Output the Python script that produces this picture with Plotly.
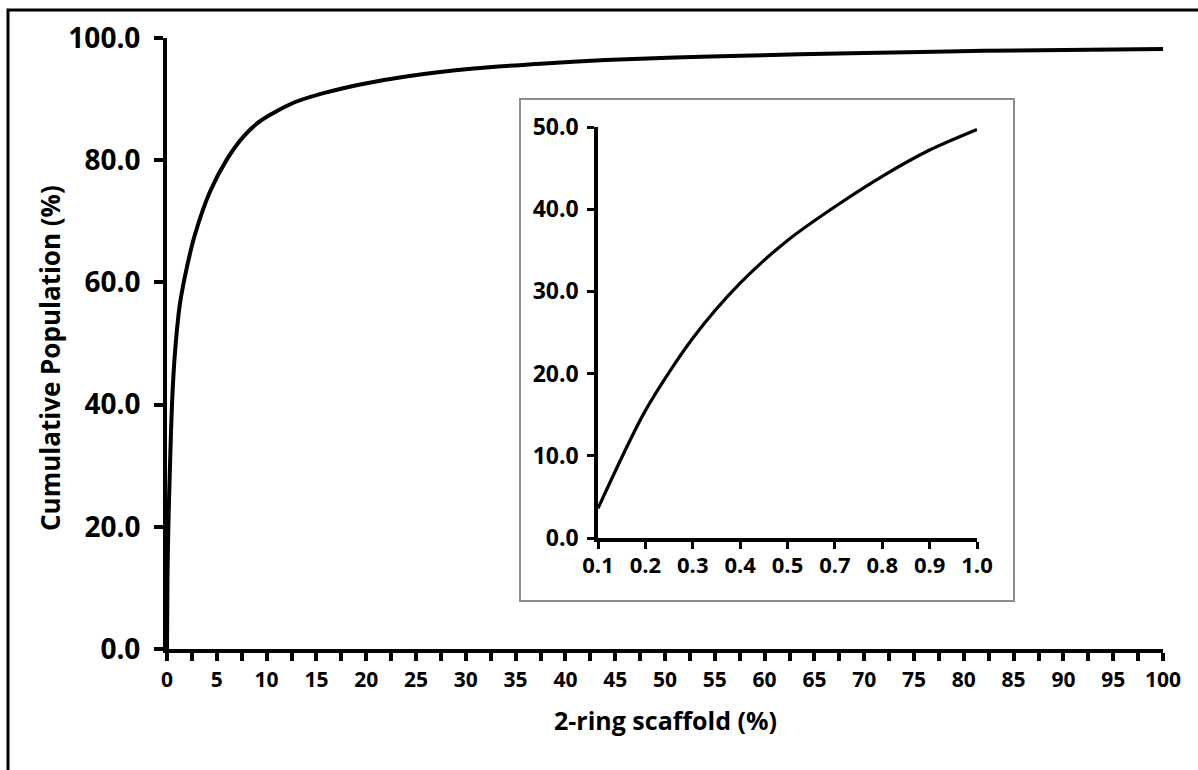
import plotly.graph_objects as go

# Main curve: 2-ring scaffold (%) vs cumulative population (%)
main_x = [0, 0.05, 0.15, 0.3, 0.5, 0.8, 1.3, 2.0, 2.8, 4.3, 6.0, 7.7,
          9.35, 12.7, 16.0, 19.4, 24.0, 30.8, 37.5, 44.0, 51.0, 57.6, 68.6, 82.0, 100.0]
main_y = [0, 12.0, 21.0, 30.0, 40.0, 48.5, 56.5, 62.5, 67.8, 74.8, 80.1, 83.9,
          86.4, 89.4, 91.1, 92.4, 93.7, 95.0, 95.8, 96.4, 96.8, 97.1, 97.5, 97.9, 98.2]

# Inset: first 1% of scaffolds (categorical axis, as in the original)
inset_cats = ["0.1", "0.2", "0.3", "0.4", "0.5", "0.7", "0.8", "0.9", "1.0"]
inset_y = [3.6, 15.5, 24.3, 31.0, 36.2, 40.3, 44.0, 47.2, 49.7]

main_xticks = list(range(0, 101, 5))
x_title = "2-ring scaffold (%)"
y_title = "Cumulative Population (%)"

W, H = 1198, 770
FONT = "Open Sans"

def px_x(p):
    return p / W

def px_y(p):
    return 1 - p / H

fig = go.Figure()
fig.add_trace(go.Scatter(x=main_x, y=main_y, mode="lines",
                         line=dict(color="black", width=4, shape="spline", smoothing=0.8),
                         xaxis="x", yaxis="y", showlegend=False, hoverinfo="skip"))
fig.add_trace(go.Scatter(x=inset_cats, y=inset_y, mode="lines",
                         line=dict(color="black", width=3.2, shape="spline", smoothing=0.8),
                         xaxis="x2", yaxis="y2", showlegend=False, hoverinfo="skip"))

axis_common = dict(showgrid=False, zeroline=False, showline=True, linecolor="black",
                   ticks="outside", tickcolor="black", automargin=False)

fig.update_layout(
    template="none",
    width=W, height=H,
    margin=dict(l=0, r=0, t=0, b=0, pad=0, autoexpand=False),
    paper_bgcolor="white", plot_bgcolor="rgba(0,0,0,0)",
    font=dict(family=FONT, color="black", weight="bold"),
    xaxis=dict(**axis_common, domain=[px_x(167), px_x(1163)], range=[0, 100],
               tickvals=main_xticks, ticktext=[str(v) for v in main_xticks],
               linewidth=4, tickwidth=3.5, ticklen=8, ticklabelstandoff=1,
               minor=dict(dtick=2.5, ticks="outside", ticklen=8, tickwidth=3.5, tickcolor="black",
                          showgrid=False),
               tickfont=dict(size=21, family=FONT, weight="bold"),
               anchor="y"),
    yaxis=dict(**axis_common, domain=[px_y(649), px_y(38)], range=[0, 100],
               dtick=20, tickformat=".1f", linewidth=4, tickwidth=3.5, ticklen=9,
               ticklabelstandoff=8,
               tickfont=dict(size=28, family=FONT, weight="bold"),
               anchor="x"),
    xaxis2=dict(**axis_common, domain=[px_x(598), px_x(977)], type="category",
                range=[0, len(inset_cats) - 1], linewidth=3.5, tickwidth=3, ticklen=7,
                ticklabelstandoff=-2,
                tickfont=dict(size=22, family=FONT, weight="bold"), anchor="y2"),
    yaxis2=dict(**axis_common, domain=[px_y(538), px_y(127)], range=[0, 50],
                dtick=10, tickformat=".1f", linewidth=3.5, tickwidth=3, ticklen=7,
                ticklabelstandoff=4,
                tickfont=dict(size=23, family=FONT, weight="bold"), anchor="x2"),
    shapes=[
        dict(type="rect", xref="paper", yref="paper", layer="below",
             x0=px_x(8), x1=px_x(1230), y0=px_y(800), y1=px_y(10),
             line=dict(color="black", width=3), fillcolor="white"),
        dict(type="rect", xref="paper", yref="paper", layer="below",
             x0=px_x(520), x1=px_x(1014), y0=px_y(601), y1=px_y(99),
             line=dict(color="#8c8c8c", width=2), fillcolor="white"),
    ],
    annotations=[
        dict(text=x_title, xref="paper", yref="paper", x=px_x(665), y=px_y(720),
             xanchor="center", yanchor="middle", showarrow=False,
             font=dict(size=25, family=FONT, weight="bold", color="black")),
        dict(text=y_title, xref="paper", yref="paper", x=px_x(50), y=px_y(358),
             xanchor="center", yanchor="middle", showarrow=False, textangle=-90,
             font=dict(size=26, family=FONT, weight="bold", color="black")),
    ],
)

post = ("document.body.style.margin='0';document.body.style.padding='0';"
        "document.documentElement.style.overflow='hidden';")
fig.write_html("out.html", post_script=post, config={"displayModeBar": False})
